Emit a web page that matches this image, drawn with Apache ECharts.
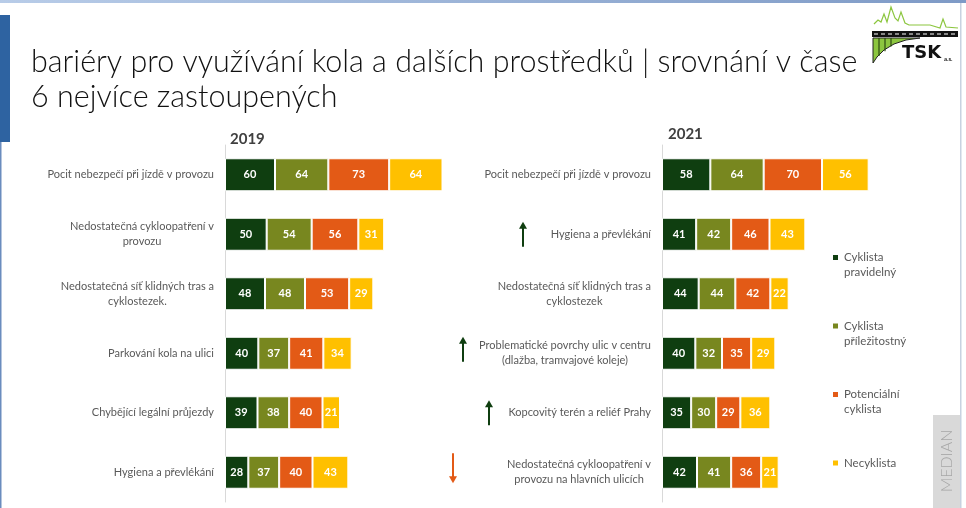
<!DOCTYPE html>
<html><head><meta charset="utf-8">
<script src="https://cdn.jsdelivr.net/npm/echarts@6/dist/echarts.min.js"></script>
<style>html,body{margin:0;padding:0;background:#fff}#c{width:966px;height:508px}</style>
</head><body><div id="c"></div>
<script>
// ---- data ----
const seriesNames = ['Cyklista pravidelný', 'Cyklista příležitostný', 'Potenciální cyklista', 'Necyklista'];
const legendLabels = ['Cyklista\npravidelný', 'Cyklista\npříležitostný', 'Potenciální\ncyklista', 'Necyklista'];
const colors = ['#0F3E10', '#78871F', '#E35A16', '#FFC000'];

const categories2019 = [
  'Pocit nebezpečí při jízdě v provozu',
  'Nedostatečná cykloopatření v\nprovozu',
  'Nedostatečná síť klidných tras a\ncyklostezek.',
  'Parkování kola na ulici',
  'Chybějící legální průjezdy',
  'Hygiena a převlékání'
];
const regular2019 = [60, 50, 48, 40, 39, 28];
const occasional2019 = [64, 54, 48, 37, 38, 37];
const potential2019 = [73, 56, 53, 41, 40, 40];
const non2019 = [64, 31, 29, 34, 21, 43];

const categories2021 = [
  'Pocit nebezpečí při jízdě v provozu',
  'Hygiena a převlékání',
  'Nedostatečná síť klidných tras a\ncyklostezek',
  'Problematické povrchy ulic v centru\n(dlažba, tramvajové koleje)',
  'Kopcovitý terén a reliéf Prahy',
  'Nedostatečná cykloopatření v\nprovozu na hlavních ulicích'
];
const regular2021 = [58, 41, 44, 40, 35, 42];
const occasional2021 = [64, 42, 44, 32, 30, 41];
const potential2021 = [70, 46, 42, 35, 29, 36];
const non2021 = [56, 43, 22, 29, 36, 21];

// trend arrows (2021 panel): category, direction
const trendCats = ['Hygiena a převlékání', 'Problematické povrchy ulic v centru\n(dlažba, tramvajové koleje)', 'Kopcovitý terén a reliéf Prahy', 'Nedostatečná cykloopatření v\nprovozu na hlavních ulicích'];
const trendDirs = ['up', 'up', 'up', 'down'];

const titleText = 'bariéry pro využívání kola a dalších prostředků | srovnání v čase\n6 nejvíce zastoupených';

// ---- chart ----
const FONT = 'Lato, "Noto Sans", sans-serif';
const chart = echarts.init(document.getElementById('c'), null, {renderer: 'canvas'});
const data2019 = [regular2019, occasional2019, potential2019, non2019];
const data2021 = [regular2021, occasional2021, potential2021, non2021];

function mkSeries(arrs, idx) {
  return arrs.map((d, i) => ({
    name: seriesNames[i], type: 'bar', stack: 's' + idx,
    xAxisIndex: idx, yAxisIndex: idx, data: d, barWidth: 33,
    itemStyle: {color: colors[i], borderColor: '#fff', borderWidth: 1},
    label: {show: true, position: 'inside', color: '#fff', fontWeight: 'bold', fontSize: 11, fontFamily: FONT},
    emphasis: {disabled: true}
  }));
}
function yLabel() {
  return {
    margin: 11, fontFamily: FONT, color: '#595959', fontSize: 11,
    formatter: v => v.split('\n').map(l => '{c|' + l + '}').join('\n'),
    rich: {c: {align: 'center', fontFamily: FONT, color: '#595959', fontSize: 11, lineHeight: 15}}
  };
}
const yBase = {type: 'category', inverse: true, axisTick: {show: false},
  axisLine: {show: true, lineStyle: {color: '#D9D9D9', width: 1}}};
const xBase = {type: 'value', min: 0, max: 300, show: false, splitLine: {show: false}};

chart.setOption({
  animation: false,
  title: {text: titleText, left: 26, top: 40, textStyle: {fontFamily: FONT, fontWeight: 300, fontSize: 30.5, lineHeight: 35, color: '#111'}},
  legend: {
    orient: 'vertical', left: 831, top: 235, padding: 0, itemGap: 23.5,
    icon: 'rect', itemWidth: 7, itemHeight: 7, selectedMode: false,
    data: seriesNames,
    formatter: n => { const l = legendLabels[seriesNames.indexOf(n)]; return '\n' + l + (l.indexOf('\n') < 0 ? '\n' : ''); },
    textStyle: {fontFamily: FONT, fontSize: 11.5, color: '#595959', lineHeight: 15}
  },
  grid: [
    {left: 225, top: 145, width: 250, height: 357},
    {left: 662, top: 145, width: 250, height: 357}
  ],
  xAxis: [Object.assign({gridIndex: 0}, xBase), Object.assign({gridIndex: 1}, xBase)],
  yAxis: [
    Object.assign({gridIndex: 0, data: categories2019, axisLabel: yLabel()}, yBase),
    Object.assign({gridIndex: 1, data: categories2021, axisLabel: yLabel()}, yBase)
  ],
  series: mkSeries(data2019, 0).concat(mkSeries(data2021, 1))
});

// decorations
const g = [];
// top strip
g.push({type: 'rect', shape: {x: 0, y: 0, width: 966, height: 3}, style: {fill: new echarts.graphic.LinearGradient(0, 0, 1, 0, [{offset: 0, color: '#B8CCE8'}, {offset: 1, color: '#7E9AC6'}])}});
// left bars
g.push({type: 'rect', shape: {x: 0, y: 15, width: 10, height: 127}, style: {fill: '#2E63A1'}});
g.push({type: 'rect', shape: {x: 0, y: 142, width: 1.5, height: 366}, style: {fill: '#6A8CBE'}});
// right border line
g.push({type: 'rect', shape: {x: 960, y: 3, width: 1.5, height: 505}, style: {fill: '#C8D2E0'}});
// year labels
g.push({type: 'text', x: 230, y: 132, style: {text: '2019', fontFamily: FONT, fontWeight: 'bold', fontSize: 15, fill: '#404040'}});
g.push({type: 'text', x: 668, y: 127, style: {text: '2021', fontFamily: FONT, fontWeight: 'bold', fontSize: 15, fill: '#404040'}});
// MEDIAN box
g.push({type: 'rect', shape: {x: 933, y: 415, width: 27, height: 93}, style: {fill: '#D9D9D9'}});
g.push({type: 'text', x: 947, y: 461, rotation: Math.PI / 2, style: {text: 'MEDIAN', fontFamily: FONT, fontWeight: 300, fontSize: 16, fill: '#A6A6A6', align: 'center', verticalAlign: 'middle'}});
// TSK logo
g.push({type: 'polyline', shape: {points: [[874,24],[878,20],[881,22],[884,14],[887,22],[891,7],[895,18],[898,21],[901,12],[905,23],[909,25],[930,25],[940,28],[943,19],[946,27],[958,28]]}, style: {stroke: '#8CC63F', lineWidth: 1.2, fill: null}});
g.push({type: 'rect', shape: {x: 872, y: 31, width: 86, height: 6}, style: {fill: '#111'}});
g.push({type: 'line', shape: {x1: 874, y1: 34, x2: 956, y2: 34}, style: {stroke: '#fff', lineWidth: 1, lineDash: [4, 3]}});
g.push({type: 'polygon', shape: {points: [[873,38],[920,38],[906,40],[894,44],[884,50],[877,57],[873,63]]}, style: {fill: '#8CC63F', stroke: '#222', lineWidth: 1}});
[879, 885, 891].forEach(x => g.push({type: 'line', shape: {x1: x, y1: 38, x2: x, y2: 56 - (x - 879) * 0.8}, style: {stroke: '#2d4a12', lineWidth: 1.2}}));
g.push({type: 'text', x: 902, y: 44, style: {text: 'TSK', fontFamily: '"DejaVu Sans", sans-serif', fontWeight: 'bold', fontSize: 18, fill: '#111'}});
g.push({type: 'text', x: 944, y: 56, style: {text: 'a.s.', fontFamily: FONT, fontWeight: 'bold', fontSize: 6, fill: '#111'}});
// trend arrows
const arrowX = [523, 463, 489, 453];
trendCats.forEach((c, i) => {
  const yc = chart.convertToPixel({yAxisIndex: 1}, c);
  const x = arrowX[i];
  const col = trendDirs[i] === 'up' ? '#0F3E10' : '#E35A16';
  const half = trendDirs[i] === 'up' ? 12.5 : 15;
  const off = (i === 1 || i === 3) ? 4 : 0;
  const y1 = yc - half - off, y2 = yc + half - off;
  if (trendDirs[i] === 'up') {
    g.push({type: 'line', shape: {x1: x, y1: y1 + 3, x2: x, y2: y2}, style: {stroke: col, lineWidth: 2}});
    g.push({type: 'polygon', shape: {points: [[x - 4, y1 + 7], [x, y1], [x + 4, y1 + 7]]}, style: {fill: col}});
  } else {
    g.push({type: 'line', shape: {x1: x, y1: y1, x2: x, y2: y2 - 3}, style: {stroke: col, lineWidth: 2}});
    g.push({type: 'polygon', shape: {points: [[x - 4, y2 - 7], [x, y2], [x + 4, y2 - 7]]}, style: {fill: col}});
  }
});
chart.setOption({graphic: g});
</script></body></html>
